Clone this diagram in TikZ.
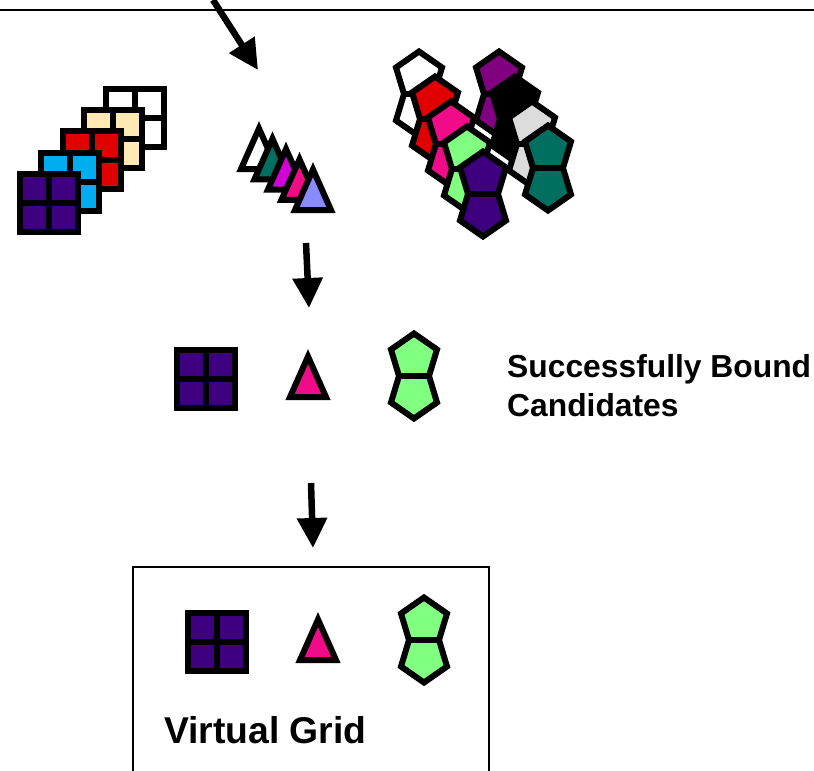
\documentclass[tikz,border=0pt]{standalone}
\usepackage{fontspec}
\setmainfont{Liberation Sans}
\usetikzlibrary{arrows.meta}
\definecolor{cindigo}{HTML}{3F007F}
\definecolor{ccyan}{HTML}{00AEEF}
\definecolor{cred}{HTML}{E00000}
\definecolor{cpeach}{HTML}{FFE9B5}
\definecolor{cteal}{HTML}{006F60}
\definecolor{cmagenta}{HTML}{D400D8}
\definecolor{cpink}{HTML}{F00C88}
\definecolor{clav}{HTML}{8A8AFF}
\definecolor{cgreen}{HTML}{80FF80}
\definecolor{cviolet}{HTML}{800080}
\definecolor{cgray}{HTML}{DCDCDC}
\begin{document}
\begin{tikzpicture}[x=1pt,y=-1pt,line join=miter,
  pics/gridsq/.style={code={
    \draw[line width=6pt,fill=#1] (-29,-29) rectangle (29,29);
    \draw[line width=6pt] (0,-29)--(0,29) (-29,0)--(29,0);}},
  pics/tri/.style={code={
    \draw[line width=6pt,fill=#1] (0,-20.5)--(18,20)--(-18,20)--cycle;}},
  pics/bowtie/.style={code={
    \draw[line width=6pt,fill=#1] (0,-42.5)--(23,-26.5)--(15,0)--(23,26.5)--(0,42.5)--(-23,26.5)--(-15,0)--(-23,-26.5)--cycle;
    \draw[line width=6pt] (-15,0)--(15,0);}},
  arr/.style={line width=6.5pt,-{Triangle[length=30pt,width=29pt]}},
  lbl/.style={inner sep=0pt,font=\bfseries\fontsize{31.8}{39}\selectfont}]
\useasboundingbox (0,0) rectangle (814,771);

% top rule
\coordinate (topL) at (0,10);
\coordinate (topR) at (814,10);
\draw[line width=2.5pt] (topL) -- (topR);

% arrows
\coordinate (a1s) at (213,0);
\coordinate (a1e) at (258,70);
\draw[arr] (a1s) -- (a1e);
\coordinate (a2s) at (306,243);
\coordinate (a2e) at (309,308);
\draw[arr] (a2s) -- (a2e);
\coordinate (a3s) at (311,483);
\coordinate (a3e) at (313,548);
\draw[arr] (a3s) -- (a3e);

% stacked grid squares
\pic (sq5) at (134.5,117.5) {gridsq=white};
\pic (sq4) at (113,138.5) {gridsq=cpeach};
\pic (sq3) at (91.5,160) {gridsq=cred};
\pic (sq2) at (70,181.5) {gridsq=ccyan};
\pic (sq1) at (48.5,202.5) {gridsq=cindigo};

% stacked triangles
\pic (tr1) at (259,149) {tri=white};
\pic (tr2) at (272.5,159.25) {tri=cteal};
\pic (tr3) at (286,169.5) {tri=cmagenta};
\pic (tr4) at (299.5,179.75) {tri=cpink};
\pic (tr5) at (313,190) {tri=clav};

% pentagon cluster, right column
\pic (pr1) at (499,94) {bowtie=cviolet};
\pic (pr2) at (515,119) {bowtie=black};
\pic (pr3) at (532,144) {bowtie=cgray};
\pic (pr4) at (548,168) {bowtie=cteal};
% left column
\pic (pl1) at (419,94) {bowtie=white};
\pic (pl2) at (435,119) {bowtie=cred};
\pic (pl3) at (451,144) {bowtie=cpink};
\pic (pl4) at (467,169) {bowtie=cgreen};
\pic (pl5) at (483,194) {bowtie=cindigo};

% successfully bound row
\pic (bsq) at (206,379) {gridsq=cindigo};
\pic (btr) at (308,377) {tri=cpink};
\pic (bbt) at (414,376) {bowtie=cgreen};
\node[lbl,anchor=base west] (sb1) at (507,377) {Successfully Bound};
\node[lbl,anchor=base west] (sb2) at (507,416) {Candidates};

% virtual grid box
\coordinate (bx1) at (133,771);
\coordinate (bx2) at (133,567);
\coordinate (bx3) at (489,567);
\coordinate (bx4) at (489,771);
\draw[line width=2.5pt] (bx1) -- (bx2) -- (bx3) -- (bx4);
\pic (vsq) at (217,642) {gridsq=cindigo};
\pic (vtr) at (318,640) {tri=cpink};
\pic (vbt) at (424,640) {bowtie=cgreen};
\node[inner sep=0pt,anchor=base west,font=\bfseries\fontsize{37.3}{44}\selectfont] (vg) at (164,743) {Virtual Grid};
\end{tikzpicture}
\end{document}
